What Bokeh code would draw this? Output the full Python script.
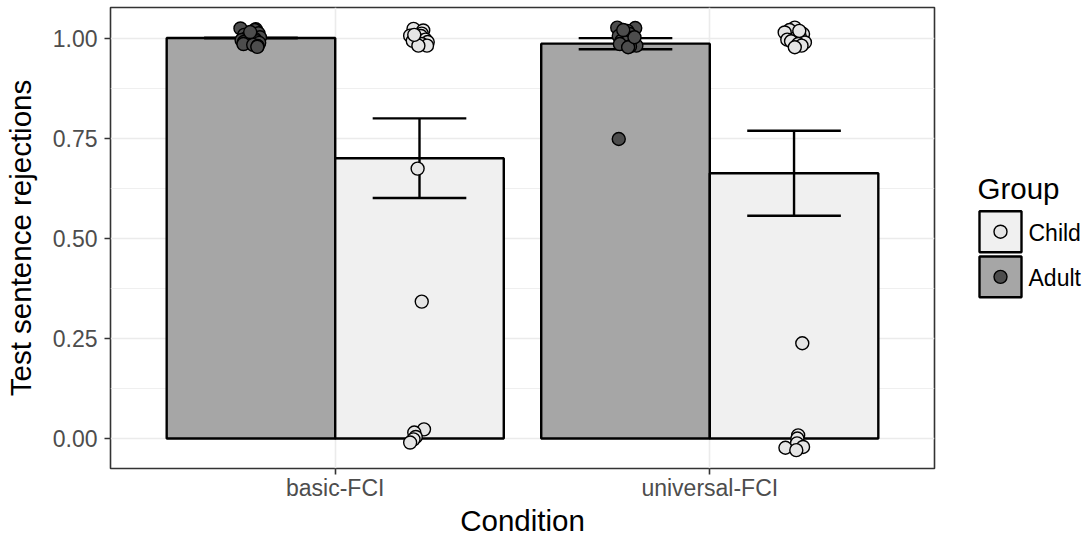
from bokeh.plotting import figure
from bokeh.models import FixedTicker, Range1d
from bokeh.layouts import row
from bokeh.core.properties import value
from bokeh.embed import file_html
from bokeh.resources import INLINE

# ---------------- data ----------------
conditions = ["basic-FCI", "universal-FCI"]
cond_pos = [1, 2]
groups = ["Child", "Adult"]

adult_mean = [1.0, 0.986]
adult_se = [0.0, 0.0139]
child_mean = [0.700, 0.6625]
child_se = [0.0994, 0.1062]

# jittered individual points (value as drawn, horizontal jitter in category units)
adult_basic_y = [1.024, 1.022, 1.020, 1.012, 1.008, 1.005, 1.002, 1.000, 0.998, 0.995,
                 0.992, 0.990, 0.988, 0.985, 0.983, 0.980, 1.015, 0.978]
adult_basic_dx = [-0.028, 0.013, 0.010, 0.020, -0.018, 0.000, 0.024, -0.012, 0.010, -0.025,
                  0.016, -0.019, 0.022, -0.020, 0.006, 0.018, -0.002, 0.017]
child_basic_y = [1.023, 1.019, 1.011, 1.006, 1.005, 0.998, 0.996, 0.993, 0.990, 0.985,
                 0.981, 0.981, 1.008, 0.674, 0.342, 0.023, 0.015, 0.004, -0.002, -0.010]
child_basic_dx = [-0.016, 0.010, 0.006, -0.025, 0.004, -0.007, 0.016, -0.018, 0.022, 0.006,
                  0.020, -0.003, -0.014, -0.005, 0.006, 0.012, -0.014, -0.010, -0.016, -0.025]
adult_univ_y = [1.026, 1.025, 1.018, 1.010, 1.010, 1.005, 1.000, 0.997, 0.993, 0.990,
                0.989, 0.985, 0.981, 0.979, 0.977, 1.020, 1.002, 0.748]
adult_univ_dx = [-0.022, 0.026, 0.005, -0.011, 0.011, -0.018, 0.016, -0.004, -0.011, 0.020,
                 0.002, -0.015, 0.029, 0.012, 0.007, -0.006, 0.024, -0.018]
child_univ_y = [1.026, 1.020, 1.014, 1.010, 1.005, 1.001, 0.996, 0.992, 0.989, 0.985,
                0.981, 0.977, 1.018, 0.238, 0.008, 0.000, -0.012, -0.023, -0.021, -0.029]
child_univ_dx = [0.002, -0.012, -0.025, 0.024, 0.015, 0.006, -0.018, -0.008, 0.029, 0.011,
                 0.020, 0.002, 0.014, 0.022, 0.011, 0.009, 0.008, -0.023, 0.024, 0.006]

y_ticks = [0.0, 0.25, 0.5, 0.75, 1.0]
y_tick_labels = ["0.00", "0.25", "0.50", "0.75", "1.00"]
y_minor = [0.125, 0.375, 0.625, 0.875]

# ---------------- style / layout ----------------
FONT = "Liberation Sans"
ADULT_BAR = "#A6A6A6"
CHILD_BAR = "#F0F0F0"
ADULT_PT = "#4D4D4D"
CHILD_PT = "#E5E5E5"
DODGE = 0.225
BAR_W = 0.45
CAP_W = 0.25
X_LO, X_HI = 0.4, 2.6
Y_LO, Y_HI = -0.0748, 1.0763
LW = 2.4
PT_SIZE = 13
TOP, BOTTOM = 7, 71          # frame borders (px)
FRAME_L, FRAME_R = 110, 934  # frame left / right edge (px)

p = figure(width=FRAME_R + 2, height=539, output_backend="svg", toolbar_location=None,
           x_range=Range1d(X_LO, X_HI), y_range=Range1d(Y_LO, Y_HI),
           min_border_left=FRAME_L, min_border_right=2, min_border_top=TOP,
           min_border_bottom=BOTTOM)
p.background_fill_color = "white"
p.border_fill_color = "white"
p.outline_line_color = "#333333"
p.outline_line_width = 1.6

# grids
p.xgrid.ticker = FixedTicker(ticks=cond_pos)
p.xgrid.grid_line_color = "#EBEBEB"
p.xgrid.grid_line_width = 1.6
p.ygrid.ticker = FixedTicker(ticks=y_ticks, minor_ticks=y_minor)
p.ygrid.grid_line_color = "#EBEBEB"
p.ygrid.grid_line_width = 1.6
p.ygrid.minor_grid_line_color = "#EBEBEB"
p.ygrid.minor_grid_line_width = 0.8

# axes
p.xaxis.ticker = FixedTicker(ticks=cond_pos)
p.xaxis.major_label_overrides = {c: n for c, n in zip(cond_pos, conditions)}
p.yaxis.ticker = FixedTicker(ticks=y_ticks)
p.yaxis.major_label_overrides = {t: l for t, l in zip(y_ticks, y_tick_labels)}
for ax in (p.xaxis, p.yaxis):
    ax.axis_line_color = None
    ax.major_tick_line_color = "#333333"
    ax.major_tick_line_width = 1.6
    ax.major_tick_in = 0
    ax.major_tick_out = 6
    ax.minor_tick_line_color = None
    ax.major_label_text_font = FONT
    ax.major_label_text_font_size = "23px"
    ax.major_label_text_color = "#4D4D4D"
    ax.axis_label_text_font = FONT
    ax.axis_label_text_font_size = "29.5px"
    ax.axis_label_text_font_style = "normal"
    ax.axis_label_text_color = "black"
p.xaxis.axis_label = "Condition"
p.yaxis.axis_label = "Test sentence rejections"
p.xaxis.major_label_standoff = 0
p.xaxis.axis_label_standoff = 0
p.yaxis.major_label_standoff = 7
p.yaxis.axis_label_standoff = 13

# bars
adult_x = [c - DODGE for c in cond_pos]
child_x = [c + DODGE for c in cond_pos]
p.vbar(x=adult_x, top=adult_mean, bottom=0, width=BAR_W, fill_color=ADULT_BAR,
       line_color="black", line_width=LW)
p.vbar(x=child_x, top=child_mean, bottom=0, width=BAR_W, fill_color=CHILD_BAR,
       line_color="black", line_width=LW)

# error bars
ex = adult_x + child_x
em = adult_mean + child_mean
es = adult_se + child_se
lo = [m - s for m, s in zip(em, es)]
hi = [m + s for m, s in zip(em, es)]
p.segment(x0=ex, y0=lo, x1=ex, y1=hi, line_color="black", line_width=LW)
p.segment(x0=[x - CAP_W / 2 for x in ex], y0=lo, x1=[x + CAP_W / 2 for x in ex], y1=lo,
          line_color="black", line_width=LW)
p.segment(x0=[x - CAP_W / 2 for x in ex], y0=hi, x1=[x + CAP_W / 2 for x in ex], y1=hi,
          line_color="black", line_width=LW)

# points
def pts(center, dxs, ys, fill):
    p.scatter(x=[center + d for d in dxs], y=ys, size=PT_SIZE, marker="circle",
              fill_color=fill, line_color="black", line_width=1.4)

pts(adult_x[0], adult_basic_dx, adult_basic_y, ADULT_PT)
pts(child_x[0], child_basic_dx, child_basic_y, CHILD_PT)
pts(adult_x[1], adult_univ_dx, adult_univ_y, ADULT_PT)
pts(child_x[1], child_univ_dx, child_univ_y, CHILD_PT)

# ---------------- legend panel (pixel coordinates) ----------------
lg = figure(width=1088 - FRAME_R - 2, height=539, output_backend="svg", toolbar_location=None,
            x_range=Range1d(FRAME_R + 2, 1088), y_range=Range1d(539 - BOTTOM, TOP),
            x_axis_location=None, y_axis_location=None,
            min_border_left=0, min_border_right=0, min_border_top=TOP,
            min_border_bottom=BOTTOM)
lg.outline_line_color = None
lg.grid.visible = False
lg.background_fill_color = "white"
lg.border_fill_color = "white"

key_left, key_right = 979, 1021
key_tops = [210.7, 256.0]
key_bottoms = [251.7, 296.7]
key_fills = [CHILD_BAR, ADULT_BAR]
pt_fills = [CHILD_PT, ADULT_PT]
lg.quad(left=[key_left] * 2, right=[key_right] * 2, top=key_tops, bottom=key_bottoms,
        fill_color=key_fills, line_color="black", line_width=LW)
lg.scatter(x=[(key_left + key_right) / 2] * 2,
           y=[(t + b) / 2 for t, b in zip(key_tops, key_bottoms)],
           size=PT_SIZE, marker="circle", fill_color=pt_fills, line_color="black", line_width=1.4)
lg.text(x=[1028, 1028], y=[232, 277], text=groups, text_font=value(FONT),
        text_font_size=value("23px"), text_color="black", text_baseline="alphabetic")
lg.text(x=[977], y=[188], text=["Group"], text_font=value(FONT),
        text_font_size=value("29.5px"), text_color="black", text_baseline="alphabetic")

layout = row(p, lg)
open("out.html", "w").write(file_html(layout, INLINE))
